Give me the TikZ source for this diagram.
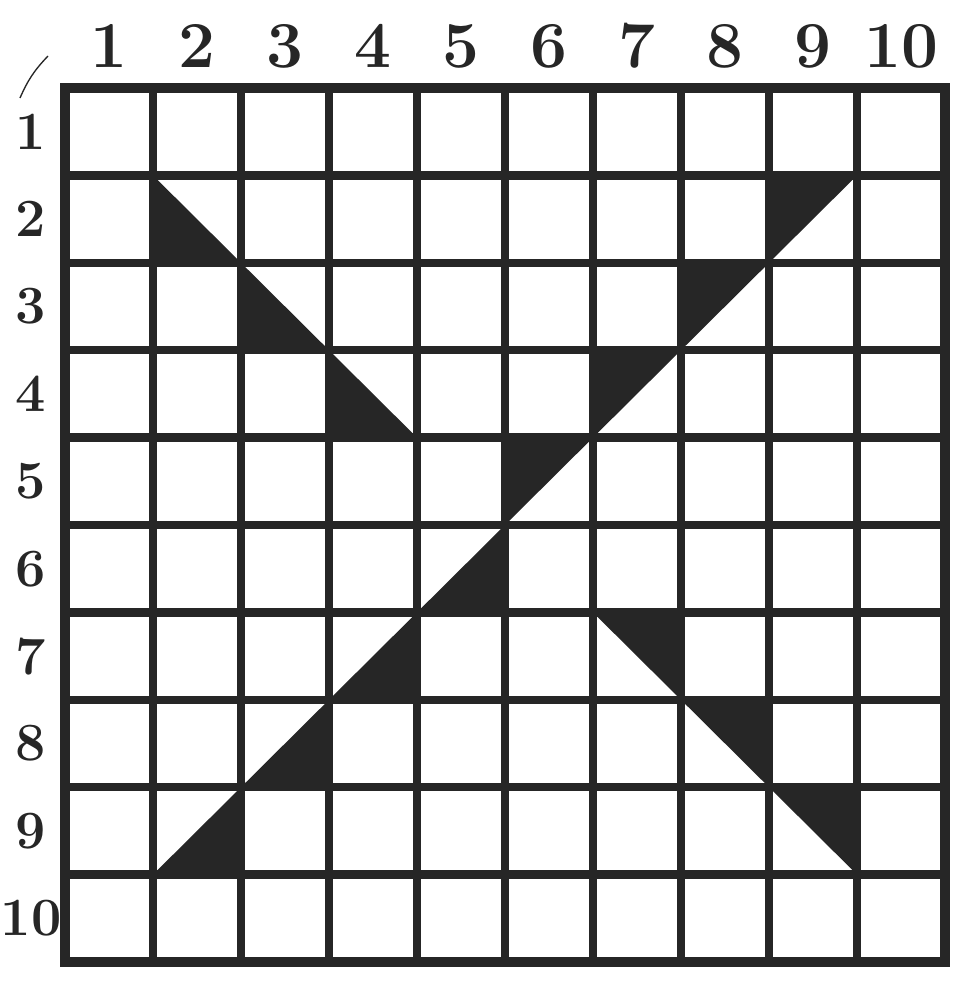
\documentclass[tikz,border=0pt]{standalone}
\usepackage{xcolor}
\usepackage{tikz}
\usetikzlibrary{calc}
\definecolor{inkcolor}{HTML}{262626}

\begin{document}
\begin{tikzpicture}[
    x=0.3mm, y=-0.3mm,
    gridline/.style={draw=inkcolor, line width=2.5mm, line cap=round},
    wedge/.style={fill=inkcolor},
    collabel/.style={font=\fontsize{56}{56}\selectfont\bfseries, text=inkcolor, inner sep=0pt},
    rowlabel/.style={font=\fontsize{46}{46}\selectfont\bfseries, text=inkcolor, inner sep=0pt}
]
    \useasboundingbox[fill=white] (0,0) rectangle (954,986);

    % half-cell wedges, cut along the diagonal
    \foreach \r/\c [evaluate=\c as \xl using 65+88*(\c-1), evaluate=\r as \yt using 88+87.4*(\r-1)] in {2/2,3/3,4/4}
        \fill[wedge] (\xl,\yt) -- (\xl,\yt+87.4) -- (\xl+88,\yt+87.4) -- cycle;
    \foreach \r/\c [evaluate=\c as \xl using 65+88*(\c-1), evaluate=\r as \yt using 88+87.4*(\r-1)] in {2/9,3/8,4/7,5/6}
        \fill[wedge] (\xl,\yt) -- (\xl+88,\yt) -- (\xl,\yt+87.4) -- cycle;
    \foreach \r/\c [evaluate=\c as \xl using 65+88*(\c-1), evaluate=\r as \yt using 88+87.4*(\r-1)] in {6/5,7/4,8/3,9/2}
        \fill[wedge] (\xl+88,\yt) -- (\xl+88,\yt+87.4) -- (\xl,\yt+87.4) -- cycle;
    \foreach \r/\c [evaluate=\c as \xl using 65+88*(\c-1), evaluate=\r as \yt using 88+87.4*(\r-1)] in {7/7,8/8,9/9}
        \fill[wedge] (\xl,\yt) -- (\xl+88,\yt) -- (\xl+88,\yt+87.4) -- cycle;

    % the 10 x 10 grid
    \foreach \i in {0,...,10} {
        \draw[gridline] (65+88*\i,88) -- (65+88*\i,962);
        \draw[gridline] (65,88+87.4*\i) -- (945,88+87.4*\i);
    }
    \draw[gridline, line width=3.2mm] (65,88) rectangle (945,962);

    % numbers along the top and the left side
    \foreach \i in {1,...,10} {
        \node[collabel] (col\i) at (21+88*\i,46) {\i};
        \node[rowlabel] (row\i) at (31,44.3+87.4*\i) {\i};
    }

    \draw[inkcolor, line width=0.4mm] (48,56) to[bend right=10] (20,98);
\end{tikzpicture}
\end{document}
